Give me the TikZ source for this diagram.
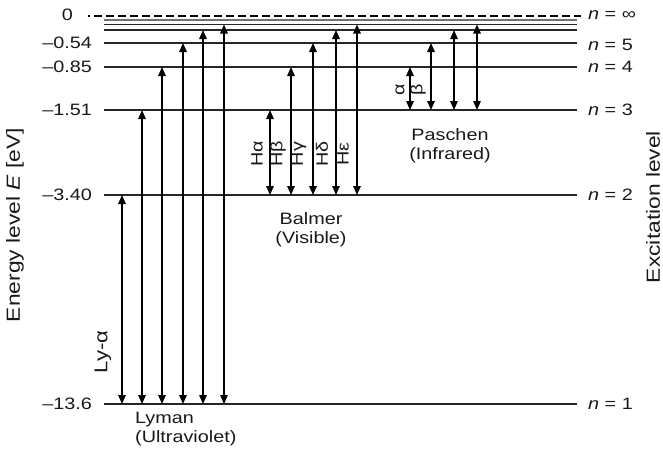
\documentclass[tikz,border=0pt]{standalone}
\usepackage{fontspec}
\setmainfont[FakeStretch=1.2]{Liberation Sans}
\usetikzlibrary{arrows.meta}
\begin{document}
\begin{tikzpicture}[x=1pt,y=-1pt,
  lvl/.style={line width=1.1pt,draw=black!85},
  arr/.style={line width=1.4pt,{Triangle[length=9pt,width=7.5pt]}-{Triangle[length=9pt,width=7.5pt]}},
  txt/.style={font=\fontsize{16.5}{19}\selectfont,inner sep=0pt,text=black!90},
  rl/.style={txt,anchor=west},
  vl/.style={txt,anchor=east},
  gl/.style={txt,rotate=90},
  al/.style={txt,rotate=90,font=\fontsize{19}{22}\selectfont}]
\useasboundingbox (0,0) rectangle (663,459);
% levels
\coordinate (Linf) at (0,16);
\coordinate (L8) at (0,24.5);
\coordinate (L7) at (0,30);
\coordinate (L5) at (0,43);
\coordinate (L4) at (0,67);
\coordinate (L3) at (0,110);
\coordinate (L2) at (0,195);
\coordinate (L1) at (0,404);
\draw[line width=1.2pt,dash pattern=on 8pt off 4pt,dash phase=6pt] (88,16) coordinate (d0) -- (581,16) coordinate (d1);
\draw[line width=2.8pt,draw=black!55] (104,20) coordinate (g0) -- (577,20) coordinate (g1);
\foreach \l in {L8,L7,L5,L4,L3,L2,L1}{
  \draw[lvl] (\l -| 104,0) -- (\l -| 577,0);
}
% value labels
\node[vl] (v0) at (73,15) {0};
\node[vl] (v5) at (92,43) {–0.54};
\node[vl] (v4) at (92,67) {–0.85};
\node[vl] (v3) at (92,110) {–1.51};
\node[vl] (v2) at (92,195) {–3.40};
\node[vl] (v1) at (92,404) {–13.6};
% n labels
\node[rl] (ninf) at (588,15) {\textit{n} = ∞};
\node[rl] (n5) at (588,45) {\textit{n} = 5};
\node[rl] (n4) at (588,67) {\textit{n} = 4};
\node[rl] (n3) at (588,110) {\textit{n} = 3};
\node[rl] (n2) at (588,195) {\textit{n} = 2};
\node[rl] (n1) at (588,404) {\textit{n} = 1};
% Lyman
\foreach \x/\t [count=\i] in {122/L2,142/L3,162/L4,183/L5,203/L7,224/L8}{
  \coordinate (ly\i b) at (\x,404);
  \coordinate (ly\i t) at (\t -| \x,0);
  \draw[arr] (ly\i b) -- (ly\i t);
}
% Balmer
\foreach \x/\t [count=\i] in {270/L3,291/L4,313/L5,336/L7,357/L8}{
  \coordinate (ba\i b) at (\x,195);
  \coordinate (ba\i t) at (\t -| \x,0);
  \draw[arr] (ba\i b) -- (ba\i t);
}
% Paschen
\foreach \x/\t [count=\i] in {410/L4,431/L5,454/L7,477/L8}{
  \coordinate (pa\i b) at (\x,110);
  \coordinate (pa\i t) at (\t -| \x,0);
  \draw[arr] (pa\i b) -- (pa\i t);
}
% transition labels
\node[gl,font=\fontsize{18.5}{20}\selectfont] (lya) at (103,352) {Ly-α};
\node[gl] (ha) at (257,154) {Hα};
\node[gl] (hb) at (278,154) {Hβ};
\node[gl] (hg) at (299,154) {Hγ};
\node[gl] (hd) at (322,154) {Hδ};
\node[gl] (he) at (343,154) {Hε};
\node[gl] (pa) at (400,90) {α};
\node[gl] (pb) at (418,90) {β};
% series labels
\node[txt,align=center] (balmer) at (311,230) {Balmer\\(Visible)};
\node[txt,align=center] (paschen) at (450,146) {Paschen\\(Infrared)};
\node[txt,align=left,anchor=north west] (lyman) at (135,412) {Lyman\\(Ultraviolet)};
% axis labels
\node[al] (elab) at (15,225) {Energy level \textit{E} [eV]};
\node[al] (xlab) at (653,207) {Excitation level};
\end{tikzpicture}
\end{document}
